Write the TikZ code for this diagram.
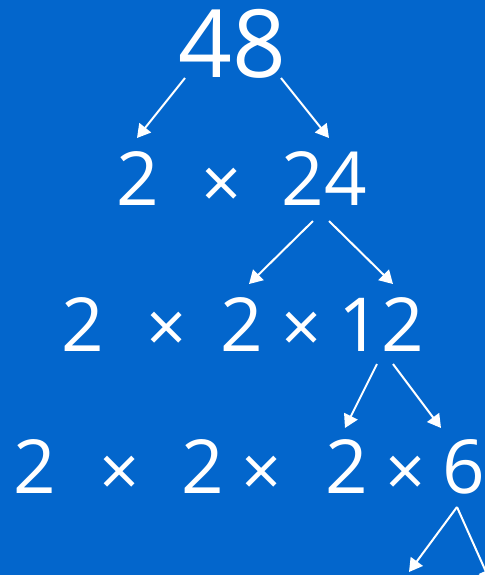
\documentclass[tikz,border=0pt]{standalone}
\usepackage{fontspec}
\setmainfont{Open Sans}
\usepackage{xcolor}
\usetikzlibrary{arrows.meta}
\definecolor{bgblue}{RGB}{3,102,204}

\begin{document}
\begin{tikzpicture}[
  x=0.025cm, y=-0.025cm,
  num/.style={text=white, inner sep=0pt, text height=38pt, text depth=0pt,
              font=\fontsize{53}{60}\selectfont},
  big/.style={num, text height=48pt, font=\fontsize{67}{74}\selectfont},
  mul/.style={text=white, inner sep=0pt, font=\fontsize{50}{56}\selectfont},
  ar/.style={-{Triangle[length=3.3mm, width=3.7mm]}, draw=white, fill=white,
             line width=0.5mm}
]
\fill[bgblue] (0,0) rectangle (485,575);
\clip (0,0) rectangle (485,575);
% top
\node[big] (n48) at (232,44) {48};
% second row
\node[num] (r2a) at (138,179) {2};
\node[mul] (r2x) at (222,188) {×};
\node[num] (r2b) at (324,179) {24};
% third row
\node[num] (r3a)  at (83,325)  {2};
\node[mul] (r3x1) at (167,332) {×};
\node[num] (r3b)  at (242,325) {2};
\node[mul] (r3x2) at (302,332) {×};
\node[num] (r3c)  at (381,325) {12};
% fourth row
\node[num] (r4a)  at (35,467)  {2};
\node[mul] (r4x1) at (120,476) {×};
\node[num] (r4b)  at (203,467) {2};
\node[mul] (r4x2) at (262,476) {×};
\node[num] (r4c)  at (347,467) {2};
\node[mul] (r4x3) at (406,476) {×};
\node[num] (r4d)  at (464,467) {6};
\coordinate (lf) at (409,572);
\coordinate (rt) at (491,583);
\draw[ar] ([xshift=-11.75mm]n48.south) -- ([xshift=-0.25mm, yshift=3.5mm]r2a.north);
\draw[ar] ([xshift=12.25mm]n48.south) -- ([xshift=1.25mm, yshift=3.5mm]r2b.north);
\draw[ar] ([xshift=-2.75mm, yshift=-3.75mm]r2b.south) -- ([xshift=1.75mm, yshift=3.5mm]r3b.north);
\draw[ar] ([xshift=1.25mm, yshift=-3.75mm]r2b.south) -- ([xshift=3mm, yshift=3.5mm]r3c.north);
\draw[ar] ([xshift=-1mm, yshift=-3mm]r3c.south) -- ([xshift=-0.5mm, yshift=3mm]r4c.north);
\draw[ar] ([xshift=3mm, yshift=-3mm]r3c.south) -- ([xshift=-5.75mm, yshift=3mm]r4d.north);
\draw[ar] ([xshift=-1.75mm, yshift=-3.25mm]r4d.south) -- (lf);
\draw[ar] ([xshift=-1.75mm, yshift=-3.25mm]r4d.south) -- (rt);
\end{tikzpicture}
\end{document}
